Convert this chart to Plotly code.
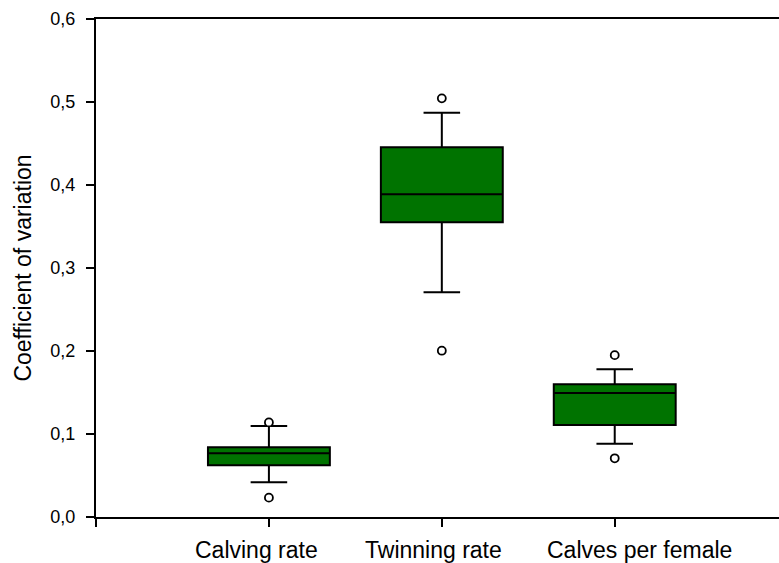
import plotly.graph_objects as go

categories = ["Calving rate", "Twinning rate", "Calves per female"]
q1 = [0.0623, 0.355, 0.1108]
median = [0.0767, 0.389, 0.1494]
q3 = [0.084, 0.4454, 0.160]
lower_whisker = [0.0418, 0.2707, 0.0883]
upper_whisker = [0.1096, 0.487, 0.178]
outlier_cat = [0, 0, 1, 1, 2, 2]
outlier_val = [0.114, 0.0233, 0.5044, 0.2004, 0.195, 0.0707]

# horizontal nudges (px) of the category labels, as placed in the original
label_shift = [-12, -8, 25]

positions = list(range(len(categories)))
font_family = "Liberation Sans, Arial, sans-serif"

fig = go.Figure()
fig.add_trace(go.Box(
    x=positions,
    q1=q1, median=median, q3=q3,
    lowerfence=lower_whisker, upperfence=upper_whisker,
    fillcolor="rgb(0,115,0)",
    line=dict(color="black", width=2),
    width=0.705,
    whiskerwidth=0.3,
    boxpoints=False,
    hoverinfo="skip",
    showlegend=False,
))
fig.add_trace(go.Scatter(
    x=[positions[i] for i in outlier_cat],
    y=outlier_val,
    mode="markers",
    marker=dict(symbol="circle", size=8, color="white",
                line=dict(color="black", width=1.8)),
    showlegend=False,
    hoverinfo="skip",
))

for pos, name, dx in zip(positions, categories, label_shift):
    fig.add_annotation(
        x=pos, xref="x", y=0, yref="paper",
        text=name, showarrow=False,
        xanchor="center", yanchor="top",
        xshift=dx, yshift=-18,
        font=dict(size=23, family=font_family, color="black"),
    )

fig.update_layout(
    width=779, height=563,
    margin=dict(l=96, r=0, t=19, b=46, autoexpand=False),
    paper_bgcolor="white", plot_bgcolor="white",
    separators=", ",
    font=dict(family=font_family, color="black"),
)
fig.update_xaxes(
    range=[-1.0, 2.95],
    tickvals=[-1] + positions,
    ticktext=[""] * (len(positions) + 1),
    ticks="outside", ticklen=8, tickwidth=2, tickcolor="black",
    showline=True, linecolor="black", linewidth=2, mirror=True,
    showgrid=False, zeroline=False,
)
fig.update_yaxes(
    range=[0, 0.6],
    tickvals=[0, 0.1, 0.2, 0.3, 0.4, 0.5, 0.6],
    tickformat=".1f",
    ticks="outside", ticklen=8, tickwidth=2, tickcolor="black",
    showline=True, linecolor="black", linewidth=2,
    showgrid=False, zeroline=False,
    tickfont=dict(size=18, family=font_family, color="black"),
    ticklabelstandoff=7,
    title=dict(text="Coefficient of variation",
               font=dict(size=23, family=font_family, color="black"),
               standoff=12),
)

fig.write_html("out.html", config={"displayModeBar": False},
               post_script="document.body.style.margin='0px';")
